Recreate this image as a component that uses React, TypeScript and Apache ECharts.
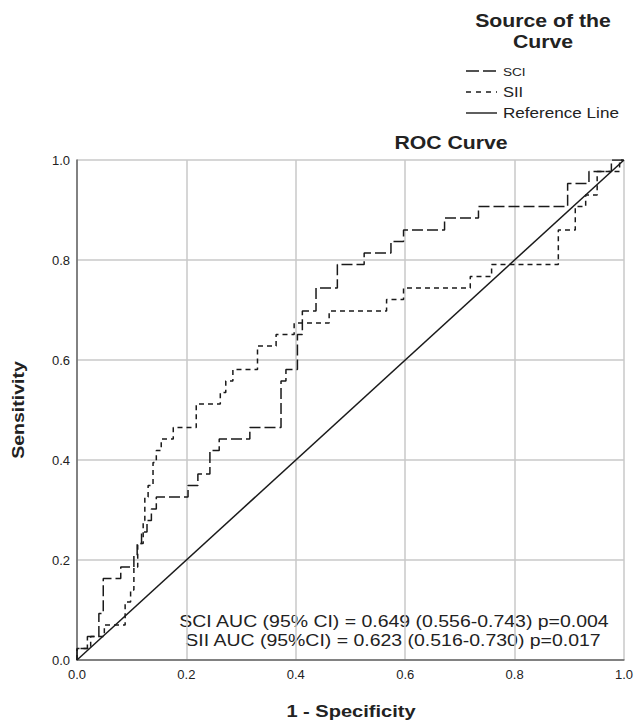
import React, { useEffect, useRef } from "react";
import * as echarts from "echarts";

const sciFpr = [0, 0, 0.019, 0.019, 0.04, 0.04, 0.048, 0.048, 0.08, 0.08, 0.104, 0.104, 0.11, 0.11, 0.118, 0.118, 0.128, 0.128, 0.136, 0.136, 0.145, 0.145, 0.203, 0.203, 0.221, 0.221, 0.243, 0.243, 0.26, 0.26, 0.316, 0.316, 0.373, 0.373, 0.382, 0.382, 0.403, 0.403, 0.412, 0.412, 0.437, 0.437, 0.476, 0.476, 0.525, 0.525, 0.574, 0.574, 0.597, 0.597, 0.672, 0.672, 0.734, 0.734, 0.897, 0.897, 0.936, 0.936, 0.977, 0.977, 1];
const sciTpr = [0, 0.023, 0.023, 0.047, 0.047, 0.093, 0.093, 0.163, 0.163, 0.186, 0.186, 0.209, 0.209, 0.233, 0.233, 0.256, 0.256, 0.279, 0.279, 0.302, 0.302, 0.326, 0.326, 0.349, 0.349, 0.372, 0.372, 0.419, 0.419, 0.442, 0.442, 0.465, 0.465, 0.558, 0.558, 0.581, 0.581, 0.651, 0.651, 0.698, 0.698, 0.744, 0.744, 0.791, 0.791, 0.814, 0.814, 0.837, 0.837, 0.86, 0.86, 0.884, 0.884, 0.907, 0.907, 0.953, 0.953, 0.977, 0.977, 1, 1];

const siiFpr = [0, 0, 0.025, 0.025, 0.05, 0.05, 0.088, 0.088, 0.098, 0.098, 0.104, 0.104, 0.111, 0.111, 0.121, 0.121, 0.124, 0.124, 0.13, 0.13, 0.139, 0.139, 0.145, 0.145, 0.154, 0.154, 0.176, 0.176, 0.218, 0.218, 0.262, 0.262, 0.272, 0.272, 0.285, 0.285, 0.33, 0.33, 0.364, 0.364, 0.397, 0.397, 0.461, 0.461, 0.566, 0.566, 0.597, 0.597, 0.719, 0.719, 0.758, 0.758, 0.88, 0.88, 0.911, 0.911, 0.93, 0.93, 0.951, 0.951, 0.992, 0.992, 1];
const siiTpr = [0, 0.023, 0.023, 0.047, 0.047, 0.07, 0.07, 0.116, 0.116, 0.14, 0.14, 0.186, 0.186, 0.233, 0.233, 0.279, 0.279, 0.326, 0.326, 0.349, 0.349, 0.395, 0.395, 0.419, 0.419, 0.442, 0.442, 0.465, 0.465, 0.512, 0.512, 0.535, 0.535, 0.558, 0.558, 0.581, 0.581, 0.628, 0.628, 0.651, 0.651, 0.674, 0.674, 0.698, 0.698, 0.721, 0.721, 0.744, 0.744, 0.767, 0.767, 0.791, 0.791, 0.86, 0.86, 0.907, 0.907, 0.93, 0.93, 0.977, 0.977, 1, 1];

const refFpr = [0, 1];
const refTpr = [0, 1];

const legendNames = ["SCI", "SII", "Reference Line"];
const aucLines = [
  "SCI AUC (95% CI) = 0.649 (0.556-0.743) p=0.004",
  "SII AUC (95%CI) = 0.623 (0.516-0.730) p=0.017",
];
const chartTitle = "ROC Curve";
const xName = "1 - Specificity";
const yName = "Sensitivity";
const legendTitle = ["Source of the", "Curve"];

const zip = (xs: number[], ys: number[]) => xs.map((x, i) => [x, ys[i]]);

const FONT = "'Liberation Sans', Arial, sans-serif";
const LINE = "#1a1a1a";

export default function App() {
  const ref = useRef<HTMLDivElement>(null);
  useEffect(() => {
    if (!ref.current) return;
    const chart = echarts.init(ref.current, null, { renderer: "svg" });
    const txt = (x: number, y: number, text: string, o: any = {}) => ({
      type: "text",
      x,
      y,
      scaleX: o.scaleX ?? 1.18,
      rotation: o.rotation ?? 0,
      style: {
        text,
        fill: o.fill ?? "#222",
        font: `${o.bold ? "bold " : ""}${o.size ?? 15}px ${FONT}`,
        textAlign: o.align ?? "center",
        textVerticalAlign: "middle",
        verticalAlign: "middle",
      },
    });
    const legY = [71, 92, 113];
    chart.setOption({
      animation: false,
      backgroundColor: "#fff",
      textStyle: { fontFamily: FONT },
      grid: { left: 77, top: 160, width: 549, height: 500, containLabel: false },
      xAxis: {
        type: "value",
        min: 0,
        max: 1,
        interval: 0.2,
        axisLine: { show: true, onZero: false, lineStyle: { color: "#666", width: 1.5 } },
        axisTick: { show: false },
        axisLabel: { color: "#222", fontSize: 13, margin: 8, formatter: (v: number) => v.toFixed(1) },
        splitLine: { show: true, lineStyle: { color: "#c8c8c8", width: 1.5 } },
      },
      yAxis: {
        type: "value",
        min: 0,
        max: 1,
        interval: 0.2,
        axisLine: { show: true, onZero: false, lineStyle: { color: "#666", width: 1.5 } },
        axisTick: { show: false },
        axisLabel: { color: "#222", fontSize: 13, margin: 7, formatter: (v: number) => v.toFixed(1) },
        splitLine: { show: true, lineStyle: { color: "#c8c8c8", width: 1.5 } },
      },
      series: [
        {
          name: legendNames[0],
          type: "line",
          data: zip(sciFpr, sciTpr),
          showSymbol: false,
          symbol: "none",
          lineStyle: { color: LINE, width: 1.5, type: [11, 4] },
          z: 3,
        },
        {
          name: legendNames[1],
          type: "line",
          data: zip(siiFpr, siiTpr),
          showSymbol: false,
          symbol: "none",
          lineStyle: { color: LINE, width: 1.5, type: [5, 4] },
          z: 3,
        },
        {
          name: legendNames[2],
          type: "line",
          data: zip(refFpr, refTpr),
          showSymbol: false,
          symbol: "none",
          lineStyle: { color: LINE, width: 1.5, type: "solid" },
          z: 2,
        },
      ],
      graphic: [
        txt(543, 21, legendTitle[0], { bold: true, size: 18 }),
        txt(543, 42, legendTitle[1], { bold: true, size: 18 }),
        { type: "line", shape: { x1: 466, y1: legY[0], x2: 497, y2: legY[0] }, style: { stroke: LINE, lineWidth: 1.4, lineDash: [13, 4] } },
        { type: "line", shape: { x1: 466, y1: legY[1], x2: 497, y2: legY[1] }, style: { stroke: LINE, lineWidth: 1.4, lineDash: [5, 5] } },
        { type: "line", shape: { x1: 466, y1: legY[2], x2: 497, y2: legY[2] }, style: { stroke: LINE, lineWidth: 1.4 } },
        txt(503, legY[0] + 1, legendNames[0], { size: 11.5, align: "left" }),
        txt(503, legY[1], legendNames[1], { size: 14, align: "left" }),
        txt(503, legY[2], legendNames[2], { size: 14.5, align: "left" }),
        txt(451, 143, chartTitle, { bold: true, size: 18 }),
        txt(394, 622, aucLines[0], { size: 16.5 }),
        txt(393, 641, aucLines[1], { size: 16.5 }),
        txt(18, 410, yName, { bold: true, size: 17, rotation: Math.PI / 2, scaleX: 1.15 }),
        txt(351, 711, xName, { bold: true, size: 17 }),
      ],
    });
    return () => chart.dispose();
  }, []);
  return (
    <div
      ref={ref}
      style={{ position: "fixed", left: 0, top: 0, width: 636, height: 723, background: "#fff" }}
    />
  );
}
